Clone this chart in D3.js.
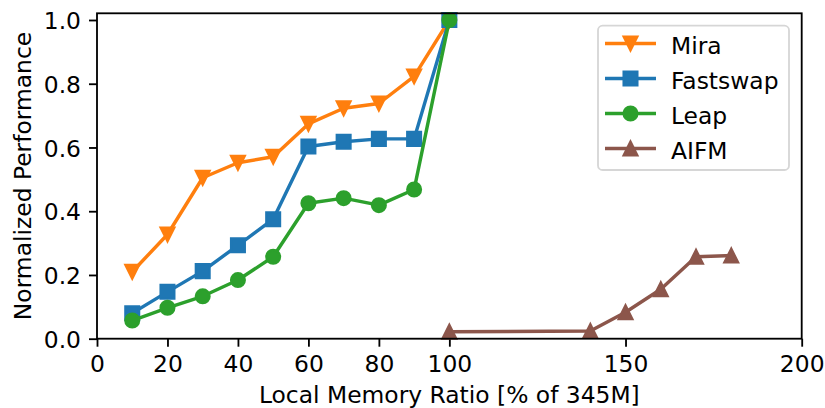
<!DOCTYPE html>
<html>
<head>
<meta charset="utf-8">
<script src="https://cdn.jsdelivr.net/npm/d3@7"></script>
<style>
  html, body { margin: 0; padding: 0; background: #fff; }
  svg { display: block; font-family: "DejaVu Sans", sans-serif; }
</style>
</head>
<body>
<div id="chart"></div>
<script>
// ---- Data ----
const xMain = [10, 20, 30, 40, 50, 60, 70, 80, 90, 100];
const miraValues = [0.21, 0.327, 0.505, 0.552, 0.571, 0.674, 0.723, 0.738, 0.823, 1.0];
const fastswapValues = [0.08, 0.147, 0.212, 0.293, 0.375, 0.603, 0.618, 0.627, 0.627, 1.0];
const leapValues = [0.057, 0.097, 0.133, 0.184, 0.257, 0.425, 0.441, 0.419, 0.468, 1.0];
const xAifm = [100, 140, 150, 160, 170, 180];
const aifmValues = [0.022, 0.024, 0.083, 0.155, 0.257, 0.261];
const xTicks = [0, 20, 40, 60, 80, 100, 150, 200];
const yTicks = [0, 0.2, 0.4, 0.6, 0.8, 1.0];
const seriesNames = ["Mira", "Fastswap", "Leap", "AIFM"];
const seriesColors = ["#ff7f0e", "#1f77b4", "#2ca02c", "#8c564b"];
const seriesMarkers = ["triangleDown", "square", "circle", "triangleUp"];
const xLabel = "Local Memory Ratio [% of 345M]";
const yLabel = "Normalized Performance";

const W = 825, H = 408;
const mLeft = 97, mRight = 801.7, mTop = 13.3, mBottom = 338.7;
const fs = 23.4;
const ms = 13.75;
const lw = 3.44;
const mew = 2.29;
const axW = 1.83;
const tickLen = 8;
const tickPad = 8;

const svg = d3.select("#chart").append("svg").attr("width", W).attr("height", H);

const x = d3.scaleLinear().domain([0, 200]).range([mLeft, mRight]);
const y = d3.scaleLinear().domain([0, 1.021]).range([mBottom, mTop]);

function markerPath(type, s) {
  const h = s / 2;
  if (type === "triangleDown") return `M0,${h}L${-h},${-h}L${h},${-h}Z`;
  if (type === "triangleUp") return `M0,${-h}L${-h},${h}L${h},${h}Z`;
  if (type === "square") return `M${-h},${-h}H${h}V${h}H${-h}Z`;
  return `M${h},0A${h},${h} 0 1,1 ${-h},0A${h},${h} 0 1,1 ${h},0Z`;
}

const series = [
  { xs: xMain, ys: miraValues },
  { xs: xMain, ys: fastswapValues },
  { xs: xMain, ys: leapValues },
  { xs: xAifm, ys: aifmValues }
];

const xAxis = d3.axisBottom(x).tickValues(xTicks).tickFormat(d3.format("d"))
  .tickSizeInner(tickLen).tickSizeOuter(0).tickPadding(tickPad);
const gx = svg.append("g").attr("transform", `translate(0,${mBottom})`).call(xAxis);
gx.select(".domain").remove();
gx.selectAll(".tick line").attr("stroke", "#000").attr("stroke-width", axW);
gx.selectAll(".tick text").attr("font-size", fs).attr("fill", "#000")
  .attr("font-family", "DejaVu Sans").attr("dy", "0.76em");

const yAxis = d3.axisLeft(y).tickValues(yTicks).tickFormat(d3.format(".1f"))
  .tickSizeInner(tickLen).tickSizeOuter(0).tickPadding(tickPad);
const gy = svg.append("g").attr("transform", `translate(${mLeft},0)`).call(yAxis);
gy.select(".domain").remove();
gy.selectAll(".tick line").attr("stroke", "#000").attr("stroke-width", axW);
gy.selectAll(".tick text").attr("font-size", fs).attr("fill", "#000")
  .attr("font-family", "DejaVu Sans").attr("dy", "0.3645em");

const plot = svg.append("g");
series.forEach((s, i) => {
  const pts = s.xs.map((xv, j) => [x(xv), y(s.ys[j])]);
  plot.append("path").attr("d", d3.line()(pts)).attr("fill", "none")
    .attr("stroke", seriesColors[i]).attr("stroke-width", lw)
    .attr("stroke-linejoin", "round").attr("stroke-linecap", "square");
  plot.selectAll(null).data(pts).enter().append("path")
    .attr("transform", d => `translate(${d[0]},${d[1]})`)
    .attr("d", markerPath(seriesMarkers[i], ms))
    .attr("fill", seriesColors[i]).attr("stroke", seriesColors[i])
    .attr("stroke-width", mew).attr("stroke-linejoin", "miter");
});

svg.append("rect").attr("x", mLeft).attr("y", mTop)
  .attr("width", mRight - mLeft).attr("height", mBottom - mTop)
  .attr("fill", "none").attr("stroke", "#000").attr("stroke-width", axW)
  .attr("stroke-linecap", "square");

svg.append("text").attr("x", (mLeft + mRight) / 2).attr("y", 403)
  .attr("text-anchor", "middle").attr("font-size", fs).attr("fill", "#000")
  .text(xLabel);
svg.append("text").attr("transform", `translate(31,${(mTop + mBottom) / 2}) rotate(-90)`)
  .attr("text-anchor", "middle").attr("font-size", fs).attr("fill", "#000")
  .text(yLabel);

const lg = svg.append("g");
lg.append("rect").attr("x", 598).attr("y", 25.7).attr("width", 191).attr("height", 144.3)
  .attr("rx", 4.6).attr("ry", 4.6)
  .attr("fill", "rgba(255,255,255,0.8)").attr("stroke", "rgba(204,204,204,0.8)")
  .attr("stroke-width", axW);
seriesNames.forEach((name, i) => {
  const cy = 43.5 + i * 35;
  lg.append("line").attr("x1", 605).attr("x2", 656).attr("y1", cy).attr("y2", cy)
    .attr("stroke", seriesColors[i]).attr("stroke-width", lw);
  lg.append("path").attr("transform", `translate(630.5,${cy})`)
    .attr("d", markerPath(seriesMarkers[i], ms))
    .attr("fill", seriesColors[i]).attr("stroke", seriesColors[i]).attr("stroke-width", mew);
  lg.append("text").attr("x", 671).attr("y", cy + 10).attr("font-size", fs)
    .attr("fill", "#000").text(name);
});
</script>
</body>
</html>
